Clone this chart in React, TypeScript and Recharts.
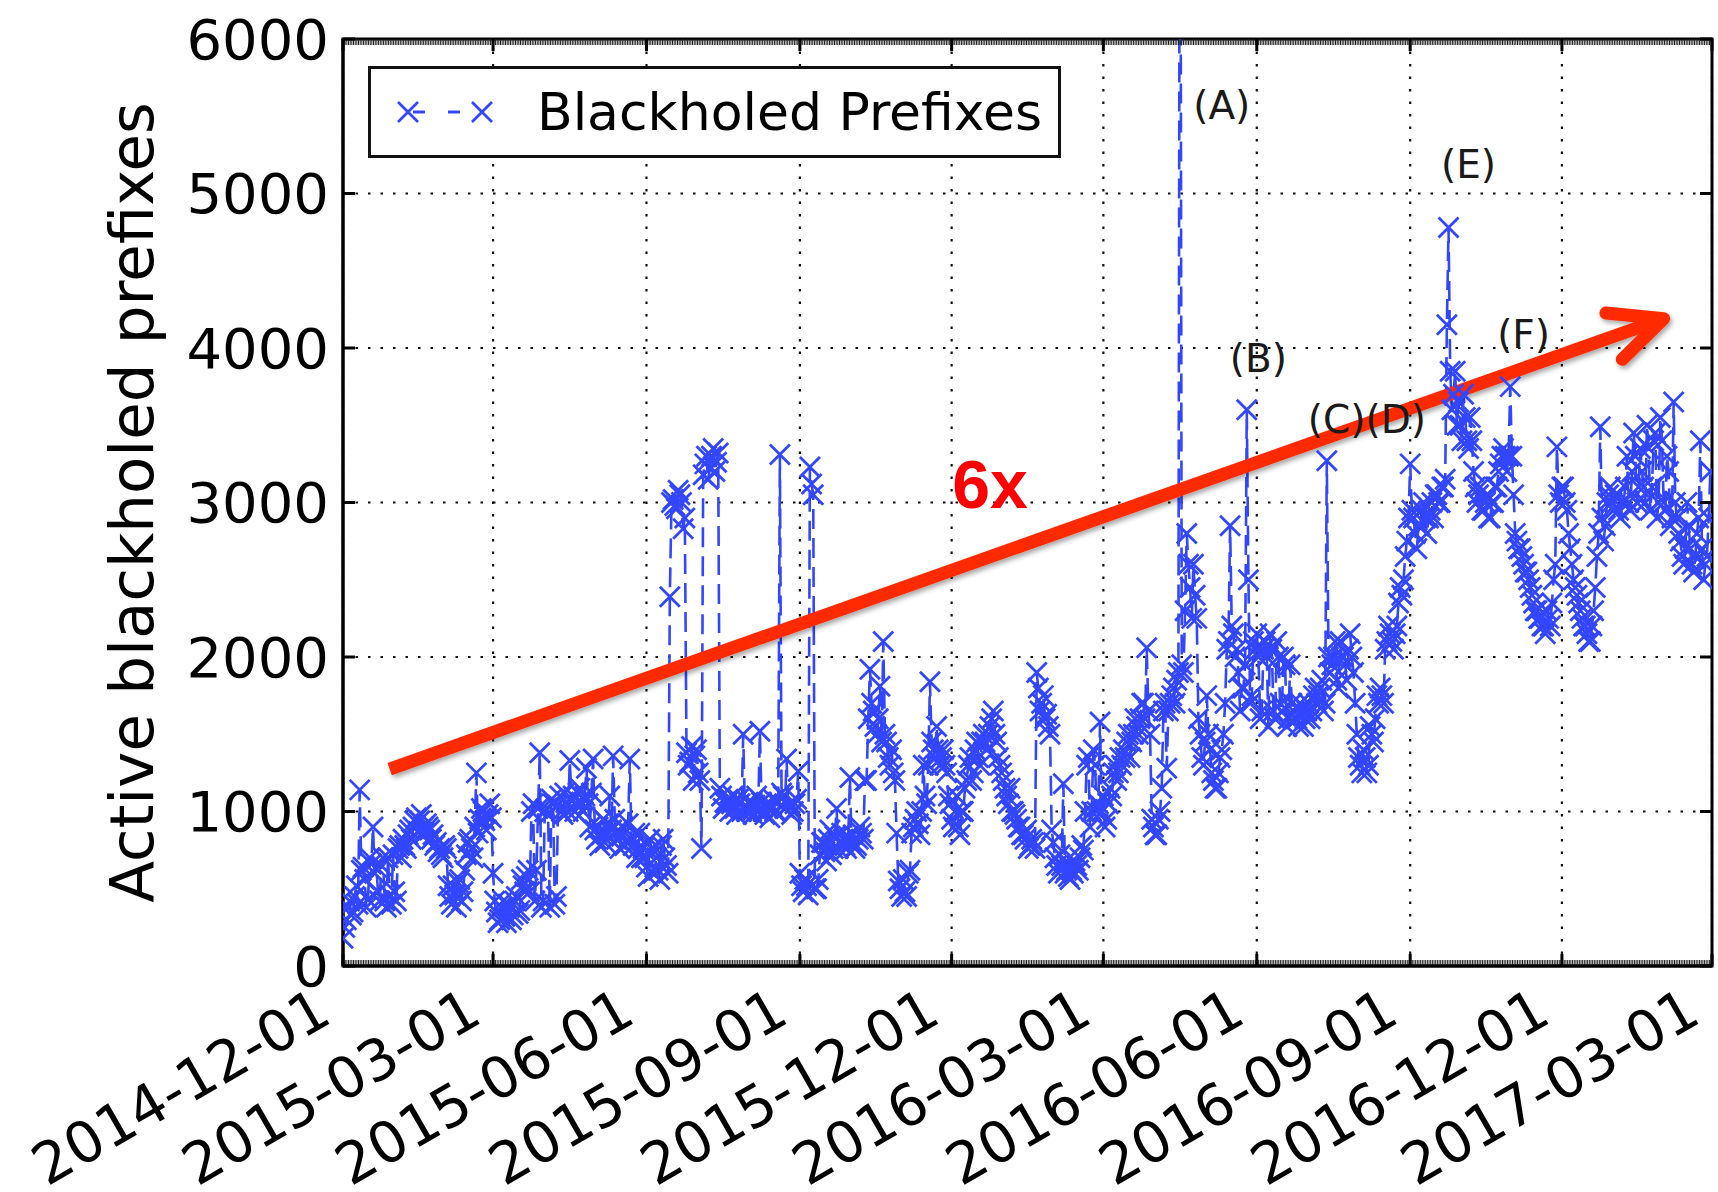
import React from 'react';
import {
  LineChart,
  Line,
  XAxis,
  YAxis,
  CartesianGrid,
  ReferenceLine,
  ReferenceArea,
  ReferenceDot,
  Legend,
} from 'recharts';

// ---------------- data: one value per day from startDate ----------------
const startDate = '2014-12-01';
const stepDays = 1;

const dec2014Jan2015 = [180,250,300,380,420,330,350,450,520,400,1140,620,640,560,380,430,700,660,900,600,640,480,420,650,700,420,380,700,460,400,720,480,420,760,780,700,820,780,760,850,880,820,900,940,960,870,940,980,900,860,920,900,880,820,850,780,800,740,760,720];
const jan2015Mar2015 = [700,780,760,520,450,400,520,460,380,540,560,420,480,620,720,800,820,760,700,900,1250,860,950,1020,1000,940,880,980,1050,960,600,420,350,280,300,380,420,320,280,400,380,300,330,420,450,340,360,560,520,480,580,620,480,1000,1050,420,620,1020,1380,380];
const mar2015May2015 = [420,1000,1020,980,380,1080,1050,400,450,1040,1100,1000,980,1120,1060,1000,1330,1080,1100,1000,1050,1120,1150,1060,1000,1100,1280,1050,900,1120,1340,880,820,900,780,850,950,800,860,920,1100,880,1360,950,820,880,760,840,900,780,800,920,1340,820,780,860,700,760,860,700];
const may2015Jul2015 = [760,700,640,580,820,760,600,640,700,620,560,780,820,700,650,600,2390,3000,3020,2980,2960,3080,3050,3000,2830,2900,1380,1300,1320,1420,1200,1360,1400,1250,1200,760,3180,3250,3300,3150,3220,3300,3350,3200,3260,3320,1150,1100,1020,1060,1050,1080,1000,1050,1100,1020,980,1080,1050,1000];
const jul2015Sep2015 = [1500,1020,1000,1060,1050,1000,980,1040,1100,1000,1520,1060,1000,980,1050,1020,960,1040,1080,1000,1000,1060,3310,1120,1100,1020,1340,1040,1050,980,1000,1050,1080,1260,600,520,480,560,520,460,3230,3120,3050,500,500,560,720,800,800,740,680,820,880,720,760,840,1020,760,800,860];
const sep2015Nov2015 = [820,780,760,840,1220,800,850,760,780,820,900,860,820,1200,1200,1600,1920,1700,1650,1550,1500,1600,1810,1450,2100,1500,1450,1350,1300,1400,1250,1200,860,550,500,450,560,480,450,600,620,860,900,950,1000,920,850,1000,1300,1100,1050,1300,1840,1450,1400,1350,1550,1400,1300,1350];
const nov2015Jan2016 = [1400,1300,1250,1100,1050,950,900,1000,1100,900,850,1000,1000,1150,1200,1300,1350,1200,1250,1400,1450,1350,1300,1450,1500,1450,1400,1500,1550,1600,1650,1500,1450,1350,1300,1250,1200,1150,1100,1050,1150,1000,1000,980,950,900,900,850,850,820,880,760,780,820,800,760,1900,1800,1650,1700];
const jan2016Mar2016 = [1750,1600,1630,1550,1500,880,800,700,650,600,720,650,1180,600,620,580,560,620,600,680,650,620,700,780,750,1000,1300,1350,900,1000,1400,1300,1000,1050,1580,1000,1100,900,950,1050,1150,1100,1250,1300,1200,1250,1350,1300,1400,1350,1450,1500,1350,1450,1500,1600,1550,1500,1600,1700];
const mar2016May2016 = [1700,1600,2060,1650,1500,950,900,850,850,950,1000,1150,1650,1700,1280,1650,1700,1750,1800,1700,1850,1900,9000,1950,1900,2300,2800,2600,2450,2250,2600,2400,2250,1600,1500,1350,1300,1450,1750,1500,1400,1250,1200,1150,1150,1250,1350,1400,1500,1700,2050,2100,2850,2200,2150,2000,2050,1900,1650,1800];
const may2016Jul2016 = [1800,1950,3600,2500,1700,1750,2100,2050,2150,2000,1600,1650,2050,2100,2000,1550,2150,2050,1650,1600,2100,2000,1700,1650,2000,1950,1550,1600,1950,1700,1650,1600,1600,1550,1700,1650,1550,1600,1650,1700,1600,1650,1750,1800,1700,1750,1800,1850,1650,1700,3270,2000,1900,1950,2000,2100,1850,1800,2100,2000];
const jul2016Sep2016 = [2000,1950,1850,2050,2150,2000,1900,1700,1500,1350,1300,1250,1400,1350,1250,1300,1550,1500,1450,1600,1750,1700,1800,1750,1700,2050,2100,2200,2150,2100,2050,2150,2200,2350,2450,2400,2500,2650,2750,2900,3250,2950,2900,2800,2700,2850,2850,2950,3000,2900,2800,2900,2950,3000,2900,3050,3050,3000,3000,3100];
const sep2016Nov2016 = [3100,3150,4150,4780,3850,3600,3700,3850,3500,3650,3500,3400,3700,3550,3400,3350,3550,3400,3200,3100,3000,3050,3100,2950,2950,3000,3050,2900,2900,3000,3000,3100,3100,3200,3250,3300,3350,3300,3200,3300,3750,3300,3050,2800,2750,2700,2700,2650,2600,2550,2550,2500,2450,2400,2350,2300,2300,2250,2250,2200];
const nov2016Jan2017 = [2200,2150,2300,2250,2200,2350,2500,2600,3360,3050,3000,3100,3100,3000,2950,2800,2700,2600,2500,2450,2400,2350,2300,2250,2200,2200,2150,2100,2100,2200,2300,2450,2650,2800,3490,2900,2750,2850,3000,3050,3100,3000,2950,3050,3050,2950,2900,3000,3000,3100,3300,3000,2950,3200,3450,3300,3000,3100,3350,3200];
const jan2017Feb2017 = [3100,3000,3500,3350,2950,3100,3400,3450,2900,3000,3550,3400,3000,2950,3300,3200,2850,2900,3650,3000,2900,2800,2750,2650,2600,2700,3000,2850,2700,2600,2550,2650,2800,2900,3400,2700,2500,2600,2650,2900,3200];

const xTickLabels = ['2014-12-01', '2015-03-01', '2015-06-01', '2015-09-01', '2015-12-01', '2016-03-01', '2016-06-01', '2016-09-01', '2016-12-01', '2017-03-01'];
const yTicks = [0, 1000, 2000, 3000, 4000, 5000, 6000];
const yAxisLabel = 'Active blackholed prefixes';
const seriesName = 'Blackholed Prefixes';

const annotationLabels = ['(A)', '(B)', '(C)(D)', '(E)', '(F)'];
const annotationDays = [527, 549, 614, 675, 708];
const annotationValues = [5570, 3935, 3534, 5185, 4085];

const trendFrom = [28, 1275];
const trendTo = [792, 4190];
const trendText = '6x';
const trendTextAt = [388, 3120];

// ---------------- helpers ----------------
const DAY_MS = 86400000;
const dayOf = (s: string) => Math.round((Date.parse(s) - Date.parse(startDate)) / DAY_MS);
const xTickDays = xTickLabels.map(dayOf);
const endDay = xTickDays[xTickDays.length - 1];

const values = [
  dec2014Jan2015, jan2015Mar2015, mar2015May2015, may2015Jul2015, jul2015Sep2015, sep2015Nov2015,
  nov2015Jan2016, jan2016Mar2016, mar2016May2016, may2016Jul2016, jul2016Sep2016, sep2016Nov2016,
  nov2016Jan2017, jan2017Feb2017,
].flat();
const data = values.map((v, i) => ({ day: i * stepDays, value: v }));

const BLUE = '#3346ff';
const FONT = '"DejaVu Sans", sans-serif';

const XMark = (props: any) => {
  const { cx, cy, index } = props;
  if (cx == null || cy == null) return <g key={`m-${index}`} />;
  const s = 10;
  return (
    <path
      key={`m-${index}`}
      d={`M${cx - s},${cy - s}L${cx + s},${cy + s}M${cx - s},${cy + s}L${cx + s},${cy - s}`}
      stroke={BLUE}
      strokeWidth={2.8}
      strokeDasharray="none"
      fill="none"
    />
  );
};

const XTick = (props: any) => {
  const { x, y, payload } = props;
  const i = xTickDays.indexOf(payload.value);
  const label = i >= 0 ? xTickLabels[i] : '';
  const ax = x - 9;
  const ay = y + 55;
  return (
    <g>
      <line x1={x} y1={y} x2={x} y2={y - 12} stroke="#000" strokeWidth={3} />
      <text
        x={ax}
        y={ay}
        textAnchor="end"
        transform={`rotate(-30 ${ax} ${ay})`}
        fontSize={57}
        fontFamily={FONT}
        fill="#000"
      >
        {label}
      </text>
    </g>
  );
};

const TopTick = (props: any) => {
  const { x, y } = props;
  return <line x1={x} y1={y} x2={x} y2={y + 12} stroke="#000" strokeWidth={3} />;
};

const YTick = (props: any) => {
  const { x, y, payload } = props;
  return (
    <g>
      <line x1={x} y1={y} x2={x + 12} y2={y} stroke="#000" strokeWidth={3} />
      <text x={x - 14} y={y} textAnchor="end" dominantBaseline="central" fontSize={56} fontFamily={FONT} fill="#000">
        {payload.value}
      </text>
    </g>
  );
};

const RightTick = (props: any) => {
  const { x, y } = props;
  return <line x1={x} y1={y} x2={x - 12} y2={y} stroke="#000" strokeWidth={3} />;
};

const YLabel = (props: any) => {
  const vb = props.viewBox || { x: 0, y: 39, width: 343, height: 927 };
  const cx = vb.x + 131;
  const cy = vb.y + vb.height / 2;
  return (
    <text
      x={cx}
      y={cy}
      textAnchor="middle"
      dominantBaseline="central"
      transform={`rotate(-90 ${cx} ${cy})`}
      fontSize={61}
      fontFamily={FONT}
      fill="#000"
    >
      {yAxisLabel}
    </text>
  );
};

const ArrowShape = (props: any) => {
  const { x1, y1, x2, y2 } = props;
  if ([x1, y1, x2, y2].some((v) => v == null || isNaN(v))) return <g />;
  const th = Math.atan2(y2 - y1, x2 - x1) + Math.PI;
  const a = (25 * Math.PI) / 180;
  const L = 58;
  const ax1 = x2 + L * Math.cos(th + a);
  const ay1 = y2 + L * Math.sin(th + a);
  const ax2 = x2 + L * Math.cos(th - a);
  const ay2 = y2 + L * Math.sin(th - a);
  return (
    <g>
      <defs>
        <filter id="arrowShadow" x="-10%" y="-10%" width="120%" height="130%">
          <feDropShadow dx="2" dy="3" stdDeviation="2.5" floodColor="#000" floodOpacity="0.35" />
        </filter>
      </defs>
      <g filter="url(#arrowShadow)">
        <line x1={x1} y1={y1} x2={x2} y2={y2} stroke="#ff2a00" strokeWidth={13} strokeLinecap="butt" />
        <path
          d={`M${ax1},${ay1}L${x2},${y2}L${ax2},${ay2}`}
          stroke="#ff2a00"
          strokeWidth={13}
          fill="none"
          strokeLinecap="round"
          strokeLinejoin="round"
        />
      </g>
    </g>
  );
};

const MinorBand = (offset: number) => (props: any) => {
  const { x1, y1, x2, y2 } = props;
  if ([x1, y1, x2, y2].some((v) => v == null || isNaN(v))) return <g />;
  return (
    <line
      x1={x1}
      x2={x2}
      y1={y1 + offset}
      y2={y2 + offset}
      stroke="#222"
      strokeWidth={6}
      strokeDasharray="1 0.67"
    />
  );
};

const LegendBox = () => (
  <div
    style={{
      width: 693,
      height: 92,
      boxSizing: 'border-box',
      border: '3px solid #111',
      background: '#fff',
      position: 'relative',
    }}
  >
    <svg width={140} height={86} style={{ position: 'absolute', left: 0, top: 0 }}>
      <line x1={37} y1={43} x2={110} y2={43} stroke={BLUE} strokeWidth={2.8} strokeDasharray="12 23" strokeDashoffset={-5} />
      <path d="M27,33L47,53M27,53L47,33" stroke={BLUE} strokeWidth={2.8} fill="none" />
      <path d="M101,33L121,53M101,53L121,33" stroke={BLUE} strokeWidth={2.8} fill="none" />
    </svg>
    <span
      style={{
        position: 'absolute',
        left: 166,
        top: 0,
        height: 86,
        lineHeight: '86px',
        fontSize: 52,
        fontFamily: FONT,
        color: '#000',
        whiteSpace: 'nowrap',
      }}
    >
      {seriesName}
    </span>
  </div>
);

export default function App() {
  return (
    <div style={{ position: 'absolute', left: 0, top: 0, width: 1718, height: 1192, background: '#fff' }}>
      <LineChart width={1718} height={1192} data={data} margin={{ top: 9, right: 0, bottom: 0, left: 0 }}>
        <CartesianGrid stroke="#111" strokeWidth={2.2} strokeDasharray="2.5 10" />
        <XAxis
          dataKey="day"
          type="number"
          domain={[0, endDay]}
          ticks={xTickDays}
          interval={0}
          allowDataOverflow
          height={226}
          tickSize={0}
          tickMargin={0}
          tickLine={false}
          axisLine={{ stroke: '#000', strokeWidth: 3 }}
          tick={<XTick />}
        />
        <XAxis
          xAxisId="top"
          orientation="top"
          dataKey="day"
          type="number"
          domain={[0, endDay]}
          ticks={xTickDays}
          interval={0}
          allowDataOverflow
          height={30}
          tickSize={0}
          tickMargin={0}
          tickLine={false}
          axisLine={false}
          tick={<TopTick />}
        />
        <YAxis
          type="number"
          domain={[0, 6000]}
          ticks={yTicks}
          interval={0}
          allowDataOverflow
          width={343}
          tickSize={0}
          tickMargin={0}
          tickLine={false}
          axisLine={{ stroke: '#000', strokeWidth: 3 }}
          tick={<YTick />}
          label={<YLabel />}
        />
        <YAxis
          yAxisId="right"
          orientation="right"
          type="number"
          domain={[0, 6000]}
          ticks={yTicks}
          interval={0}
          allowDataOverflow
          width={6}
          tickSize={0}
          tickMargin={0}
          tickLine={false}
          axisLine={false}
          tick={<RightTick />}
        />
        <Legend
          verticalAlign="middle"
          layout="horizontal"
          content={() => <LegendBox />}
          wrapperStyle={{ position: 'absolute', left: 368, top: 66, width: 693, height: 92 }}
        />
        <Line
          type="linear"
          dataKey="value"
          name={seriesName}
          stroke={BLUE}
          strokeWidth={2.6}
          strokeDasharray="20 9"
          dot={(p: any) => <XMark {...p} key={`m-${p.index}`} />}
          activeDot={false}
          isAnimationActive={false}
        />
        <ReferenceLine y={0} ifOverflow="visible" shape={MinorBand(-3)} />
        <ReferenceLine y={6000} ifOverflow="visible" shape={MinorBand(3)} />
        <ReferenceArea
          x1={0}
          x2={endDay}
          y1={0}
          y2={6000}
          ifOverflow="visible"
          fill="none"
          fillOpacity={0}
          stroke="#000"
          strokeWidth={3}
        />
        {annotationLabels.map((lab, i) => (
          <ReferenceDot
            key={lab}
            x={annotationDays[i]}
            y={annotationValues[i]}
            r={0}
            ifOverflow="visible"
            shape={(p: any) => (
              <text
                x={p.cx}
                y={p.cy}
                textAnchor="middle"
                dominantBaseline="central"
                fontSize={39}
                fontFamily={FONT}
                fill="#1a1a1a"
              >
                {lab}
              </text>
            )}
          />
        ))}
        <ReferenceLine
          segment={[
            { x: trendFrom[0], y: trendFrom[1] },
            { x: trendTo[0], y: trendTo[1] },
          ]}
          ifOverflow="visible"
          shape={ArrowShape}
        />
        <ReferenceDot
          x={trendTextAt[0]}
          y={trendTextAt[1]}
          r={0}
          ifOverflow="visible"
          shape={(p: any) => (
            <text
              x={p.cx}
              y={p.cy}
              textAnchor="middle"
              dominantBaseline="central"
              fontSize={68}
              fontWeight="bold"
              fontFamily='"Liberation Sans", Arial, sans-serif'
              fill="#ff0000"
            >
              {trendText}
            </text>
          )}
        />
      </LineChart>
    </div>
  );
}
